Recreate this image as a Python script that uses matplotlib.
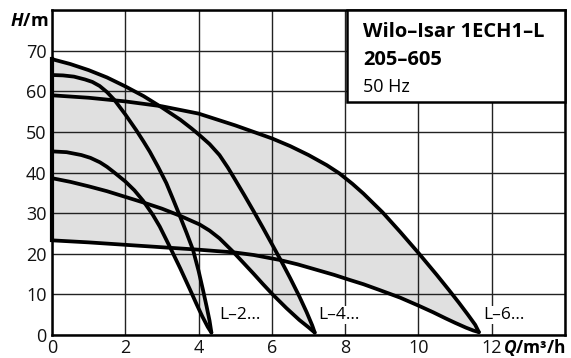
import matplotlib
matplotlib.use("Agg")
import matplotlib.pyplot as plt
from matplotlib.patches import Rectangle

plt.rcParams['font.family'] = ['Open Sans', 'DejaVu Sans']
plt.rcParams['mathtext.fontset'] = 'custom'
plt.rcParams['mathtext.bfit'] = 'Open Sans:italic:bold'
plt.rcParams['mathtext.rm'] = 'Open Sans'

# pump curves (Q in m3/h, H in m)
l2_max_q = [0, 0.3, 0.6, 0.9, 1.1, 1.3, 1.5, 1.7, 2.0, 2.3, 2.5, 2.67, 2.9, 3.12, 3.3, 3.48, 3.67, 3.85, 4.0, 4.12, 4.22, 4.3, 4.35]
l2_max_h = [64.0, 63.9, 63.6, 62.9, 62.3, 61.3, 59.8, 57.9, 54.3, 50.4, 47.6, 45.1, 41.3, 37.4, 33.5, 29.5, 25.2, 20.9, 15.8, 11.1, 7.0, 3.5, 0.6]
l2_min_q = [0, 0.4, 0.8, 1.05, 1.31, 1.5, 1.7, 2.0, 2.25, 2.49, 2.75, 2.94, 3.21, 3.5, 3.76, 3.95, 4.1, 4.25, 4.35]
l2_min_h = [45.2, 45.0, 44.3, 43.6, 42.5, 41.4, 40.0, 37.8, 35.6, 33.0, 29.6, 26.7, 21.8, 16.4, 11.3, 7.5, 4.6, 2.0, 0.6]

l4_max_q = [0, 0.5, 1.0, 1.5, 2.0, 2.5, 3.0, 3.5, 3.8, 4.0, 4.3, 4.57, 4.8, 5.0, 5.25, 5.5, 5.75, 6.0, 6.25, 6.5, 6.75, 6.95, 7.1, 7.17]
l4_max_h = [67.9, 66.7, 65.2, 63.4, 61.2, 58.8, 56.0, 53.0, 50.9, 49.4, 47.0, 44.3, 41.2, 38.2, 34.4, 30.5, 26.5, 22.4, 18.3, 14.0, 9.5, 5.6, 2.4, 0.6]
l4_min_q = [0, 0.5, 1.0, 1.5, 2.0, 2.5, 3.0, 3.48, 4.03, 4.3, 4.57, 4.93, 5.2, 5.5, 5.75, 6.02, 6.4, 6.75, 7.0, 7.17]
l4_min_h = [38.6, 37.7, 36.6, 35.4, 34.0, 32.6, 31.1, 29.4, 27.2, 25.7, 23.8, 20.6, 18.0, 15.1, 12.6, 10.0, 6.6, 3.7, 1.9, 0.6]

l6_max_q = [0, 1.0, 2.0, 3.0, 4.0, 5.0, 6.0, 6.5, 7.0, 7.5, 7.84, 8.2, 8.5, 9.02, 9.5, 10.01, 10.5, 10.83, 11.1, 11.35, 11.55, 11.65]
l6_max_h = [59.0, 58.4, 57.5, 56.3, 54.5, 51.6, 48.4, 46.5, 44.3, 41.8, 39.8, 37.2, 34.8, 30.2, 25.4, 20.1, 14.8, 11.1, 8.0, 5.0, 2.5, 0.7]
l6_min_q = [0, 1.0, 2.0, 3.0, 4.0, 5.0, 5.5, 6.2, 6.7, 7.2, 7.7, 8.11, 8.5, 8.93, 9.5, 10.01, 10.4, 10.74, 11.0, 11.3, 11.5, 11.65]
l6_min_h = [23.3, 22.8, 22.2, 21.6, 21.0, 20.3, 19.7, 18.5, 17.4, 16.1, 14.8, 13.6, 12.5, 11.1, 9.2, 7.2, 5.6, 4.1, 3.0, 1.8, 1.1, 0.7]

labels = ['L–2…', 'L–4…', 'L–6…']
label_q = [4.57, 7.27, 11.76]
label_h = [4.9, 4.9, 4.9]

x_ticks = [0, 2, 4, 6, 8, 10, 12]
y_ticks = [0, 10, 20, 30, 40, 50, 60, 70]

fig = plt.figure(figsize=(5.71, 3.58), dpi=100)
ax = fig.add_axes([52/571, 23/358, 513/571, 325/358])

ax.set_xlim(0, 14)
ax.set_ylim(0, 80)

pairs = [(l2_max_q, l2_max_h, l2_min_q, l2_min_h),
         (l4_max_q, l4_max_h, l4_min_q, l4_min_h),
         (l6_max_q, l6_max_h, l6_min_q, l6_min_h)]

for qa, ha, qb, hb in pairs:
    ax.fill(list(qa) + list(qb[::-1]), list(ha) + list(hb[::-1]),
            color='#e0e0e0', lw=0, zorder=1)
for qa, ha, qb, hb in pairs:
    ax.plot(qa, ha, color='black', lw=2.7, zorder=3, solid_capstyle='round', solid_joinstyle='round')
    ax.plot(qb, hb, color='black', lw=2.7, zorder=3, solid_capstyle='round', solid_joinstyle='round')

# thick left edge of the shaded field
ax.plot([0, 0], [l6_min_h[0], l4_max_h[0]], color='black', lw=3, zorder=3, clip_on=False)

ax.set_xticks(list(x_ticks) + [14])
ax.set_xticklabels([str(v) for v in x_ticks] + [''])
ax.set_yticks(list(y_ticks) + [80])
ax.set_yticklabels([str(v) for v in y_ticks] + [''])
ax.tick_params(length=0, labelsize=13, colors='#111111')
ax.tick_params(axis='x', pad=3)
ax.tick_params(axis='y', pad=4)
ax.grid(True, color='#222222', lw=1.0)
for s in ax.spines.values():
    s.set_linewidth(1.8)

for t, q, h in zip(labels, label_q, label_h):
    ax.text(q, h, t, fontsize=12.5, ha='left', va='center', zorder=5,
            bbox=dict(facecolor='white', edgecolor='none', pad=1))

# title box
ax.add_patch(Rectangle((0.575, 0.717), 0.425, 0.283, transform=ax.transAxes,
                       facecolor='white', edgecolor='black', lw=1.8, zorder=4, clip_on=False))
ax.text(0.606, 0.917, 'Wilo–Isar 1ECH1–L', transform=ax.transAxes, fontsize=14.5,
        fontweight='bold', va='baseline', zorder=5)
ax.text(0.606, 0.831, '205–605', transform=ax.transAxes, fontsize=14.5,
        fontweight='bold', va='baseline', zorder=5)
ax.text(0.606, 0.748, '50 Hz', transform=ax.transAxes, fontsize=13,
        va='baseline', zorder=5)

fig.text(48/571, 1 - 21/358, r'$\mathbfit{H}$/m', fontsize=13, fontweight='bold',
         ha='right', va='center')
fig.text(566/571, 1 - 348/358, r'$\mathbfit{Q}$/m³/h', fontsize=12.5, fontweight='bold',
         ha='right', va='center')

fig.savefig('out.png', dpi=100)
